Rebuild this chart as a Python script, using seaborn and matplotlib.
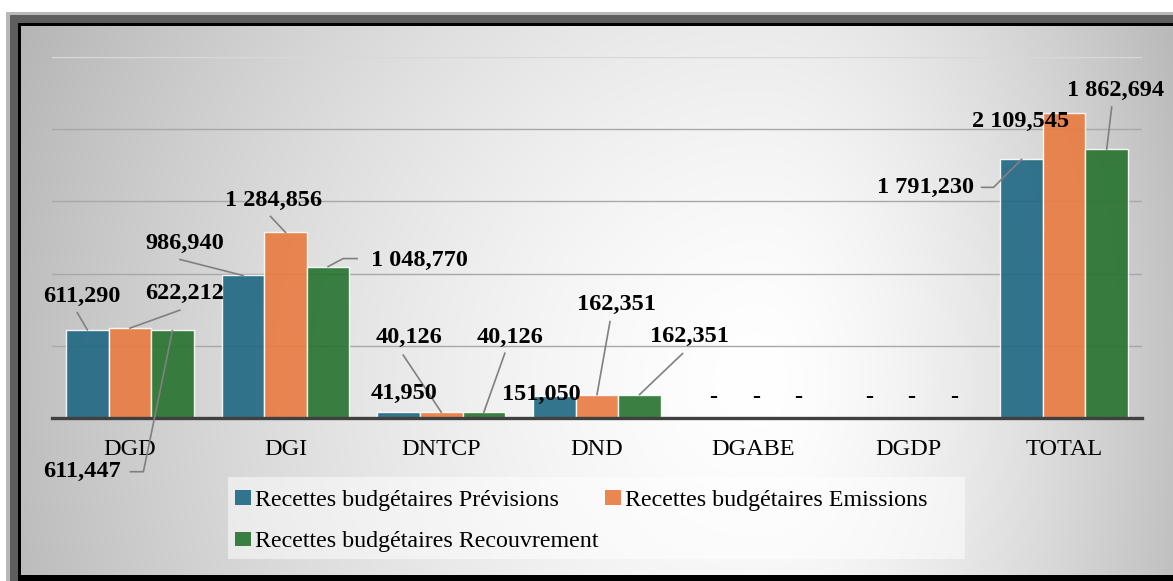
import numpy as np
import pandas as pd
import seaborn as sns
import matplotlib.pyplot as plt
from matplotlib.patches import Rectangle, Patch
from matplotlib.transforms import IdentityTransform

# donnees (milliards)
categories = ['DGD', 'DGI', 'DNTCP', 'DND', 'DGABE', 'DGDP', 'TOTAL']
series = ['Recettes budgétaires Prévisions',
          'Recettes budgétaires Emissions',
          'Recettes budgétaires Recouvrement']
previsions = [611.290, 986.940, 41.950, 151.050, 0, 0, 1791.230]
emissions = [622.212, 1284.856, 40.126, 162.351, 0, 0, 2109.545]
recouvrement = [611.447, 1048.770, 40.126, 162.351, 0, 0, 1862.694]
yticks = [0, 500, 1000, 1500, 2000, 2500]

colors = ['#1f6783', '#e97a40', '#26722f']

# position des etiquettes : decalage du texte (px, y vers le bas) par rapport au haut de la barre
# + eventuelle ligne de rappel
label_pos = {
    (0, 0): ((-5, -33), [(-10, -17), (0, 0)]),
    (1, 0): ((55, -35), [(50, -18), (0, 0)]),
    (2, 0): ((-90, 142), [(-42, 142), (-29, 142), (0, 1)]),
    (0, 1): ((-58, -32), [(-63, -16), (0, 0)]),
    (1, 1): ((-12, -32), [(-15, -16), (0, 0)]),
    (2, 1): ((91, -6), [(29, -8), (15, -8), (0, 0)]),
    (0, 2): ((5, -18), None),
    (1, 2): ((-32, -75), [(-38, -57), (0, 0)]),
    (2, 2): ((26, -75), [(21, -59), (0, 0)]),
    (0, 3): ((-13, -2), None),
    (1, 3): ((19, -90), [(13, -73), (0, 0)]),
    (2, 3): ((50, -58), [(43, -41), (0, 0)]),
    (0, 6): ((-96, 28), [(-40, 28), (-28, 28), (0, 0)]),
    (1, 6): ((-44, 8), None),
    (2, 6): ((9, -59), [(5, -42), (0, 0)]),
}


def fmt(v):
    if v == 0:
        return '-'
    return '{:,.3f}'.format(v).replace(',', ' ').replace('.', ',')


plt.rcParams['font.family'] = 'Liberation Serif'

W, H = 1173, 581
fig = plt.figure(figsize=(W / 100, H / 100), dpi=100)
fig.patch.set_facecolor('white')

# cadre + fond degrade
bg = fig.add_axes([0, 0, 1, 1])
bg.add_patch(Rectangle((6, 12), W, H, fc='#b8b8b8', lw=0))
bg.add_patch(Rectangle((10, 15), W, H, fc='#5e5e5e', lw=0))
bg.add_patch(Rectangle((18, 23), W, H, fc='#000000', lw=0))
gx, gy = np.meshgrid(np.arange(21, W), np.arange(26, 575))
cx, cy = 760, 380
rx = np.where(gx < cx, 740, 430)
d = np.sqrt(((gx - cx) / rx) ** 2 + ((gy - cy) / 760) ** 2)
val = 1 - 0.25 * np.clip(d, 0, 1.4) ** 1.5
grad = np.dstack([val, val, val])
bg.imshow(grad, extent=(21, W, 575, 26), aspect='auto', zorder=3)
bg.add_patch(Rectangle((228, 477), 737, 82, fc='white', alpha=0.5, lw=0, zorder=4))
bg.set_xlim(0, W)
bg.set_ylim(H, 0)
bg.axis('off')

ax = fig.add_axes([52 / W, (H - 418) / H, 1090 / W, (418 - 57) / H])
ax.patch.set_alpha(0)

df = pd.DataFrame({
    'categorie': categories * 3,
    'serie': [series[0]] * 7 + [series[1]] * 7 + [series[2]] * 7,
    'valeur': previsions + emissions + recouvrement,
})
sns.barplot(data=df, x='categorie', y='valeur', hue='serie', order=categories,
            hue_order=series, palette=colors, saturation=1, width=0.82,
            alpha=0.9, edgecolor=(1, 1, 1, 0.6), linewidth=1, legend=False, ax=ax)

ax.set_xlim(-0.5, 6.5)
ax.set_ylim(0, 2500)
ax.set_yticks(yticks)
ax.set_yticklabels([])
ax.set_axisbelow(True)
ax.yaxis.grid(True, color='#a8a8a8', lw=1)
ax.get_ygridlines()[-1].set_color('#d8d8d8')
for s in ['top', 'left', 'right']:
    ax.spines[s].set_visible(False)
ax.spines['bottom'].set_color('#404040')
ax.spines['bottom'].set_linewidth(2.4)
ax.tick_params(axis='y', length=0)
ax.tick_params(axis='x', length=0, pad=15, labelsize=17.5)
ax.set_xlabel('')
ax.set_ylabel('')

# etiquettes de valeurs
for si, cont in enumerate(ax.containers):
    for ci, bar in enumerate(cont):
        x = bar.get_x() + bar.get_width() / 2
        y = bar.get_height()
        (tdx, tdy), leader = label_pos.get((si, ci), ((3, -21), None))
        ax.annotate(fmt(y), xy=(x, y), xytext=(tdx, -tdy), textcoords='offset pixels',
                    ha='center', va='center', fontsize=17.5, fontweight='bold',
                    color='black', zorder=6, annotation_clip=False)
        if leader:
            px, py = ax.transData.transform((x, y))
            ax.plot([px + p[0] for p in leader], [py - p[1] for p in leader],
                    transform=IdentityTransform(), color='#808080', lw=1.2,
                    clip_on=False, zorder=5)

handles = [Patch(fc=colors[i], alpha=0.9) for i in [0, 2, 1]]
labels = [series[i] for i in [0, 2, 1]]
fig.legend(handles, labels, ncol=2, loc='upper left',
           bbox_to_anchor=(235 / W, 1 - 490 / H), frameon=False, fontsize=17.3,
           handlelength=0.65, handleheight=0.55, handletextpad=0.2,
           columnspacing=0.25, labelspacing=0.85, borderpad=0, borderaxespad=0)

fig.savefig('out.png', dpi=100)
